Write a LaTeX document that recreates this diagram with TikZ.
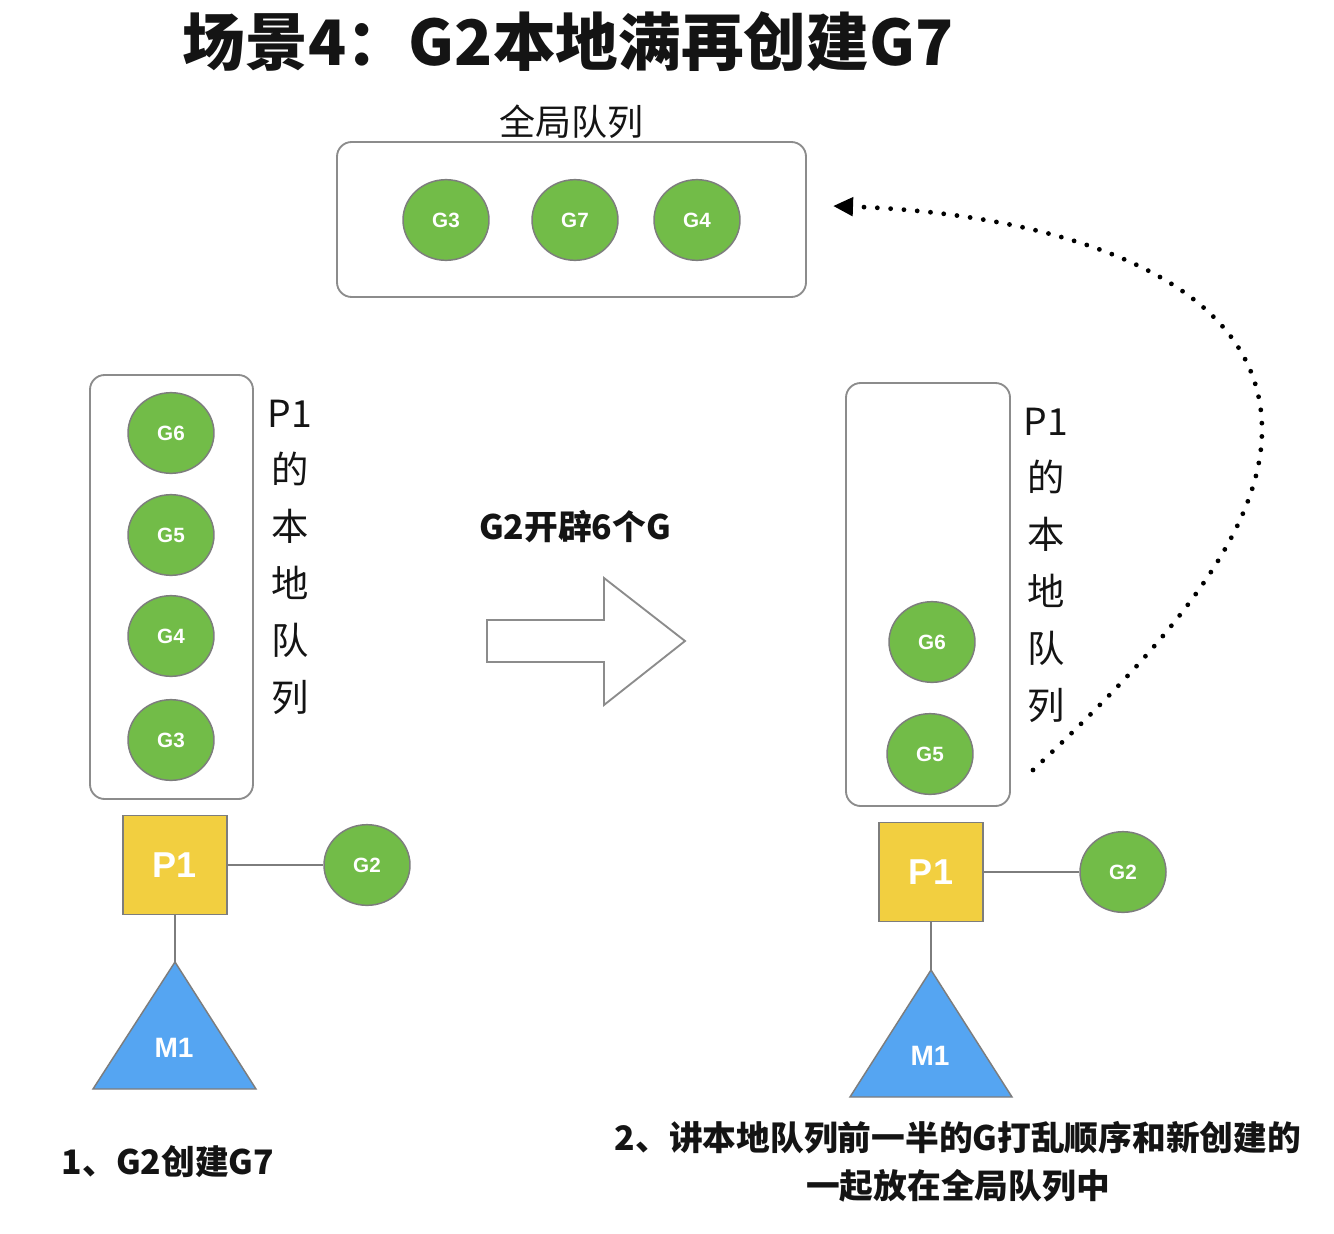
\documentclass[tikz,border=0pt]{standalone}
\usepackage{fontspec}
\setmainfont{Noto Sans CJK SC}
\newfontfamily\arialf{Liberation Sans}
\usetikzlibrary{shapes.geometric,arrows.meta}
\definecolor{ggreen}{RGB}{114,188,72}
\definecolor{gstroke}{RGB}{125,125,125}
\definecolor{pyellow}{RGB}{242,207,64}
\definecolor{mblue}{RGB}{85,165,242}
\definecolor{boxgray}{RGB}{140,140,140}
\definecolor{txtdark}{RGB}{20,20,20}
\begin{document}
\begin{tikzpicture}[x=0.75pt,y=-0.75pt,
  gnode/.style={ellipse, draw=gstroke, line width=1.1pt, fill=ggreen, minimum width=64.5pt, minimum height=60.5pt, inner sep=0pt, text=white, font=\arialf\bfseries\fontsize{15.5}{17}\selectfont},
  qbox/.style={draw=boxgray, line width=1.4pt, rounded corners=11pt, fill=white, inner sep=0pt},
  pbox/.style={draw=gstroke, line width=1.1pt, fill=pyellow, minimum width=78pt, minimum height=74.5pt, inner sep=0pt, text=white, font=\arialf\bfseries\fontsize{27}{30}\selectfont},
  mtri/.style={draw=gstroke, line width=1.1pt, fill=mblue},
  mtext/.style={text=white, font=\arialf\bfseries\fontsize{21}{24}\selectfont},
  link/.style={draw=gstroke, line width=1.1pt},
  vlabel/.style={align=center, text=txtdark, font=\fontsize{28}{42.6}\selectfont, inner sep=0pt},
  dotarrow/.style={line width=3.6pt, line cap=round, dash pattern=on 0pt off 10pt, -{Triangle[length=15pt,width=13.5pt]}},
  bigarrow/.style={draw=boxgray, line width=1.4pt, fill=white},
  note/.style={text=txtdark, font=\bfseries\fontsize{25.3}{36}\selectfont, inner sep=0pt, align=center}
]
\useasboundingbox (0,0) rectangle (1334,1234);

% title
\node[font=\bfseries\fontsize{47}{52}\selectfont, text=txtdark] (title) at (568,42) {场景4：G2本地满再创建G7};

% global queue
\node[qbox, minimum width=351.75pt, minimum height=116.25pt] (gq) at (571.5,219.5) {};
\node[text=txtdark, font=\fontsize{27}{30}\selectfont, inner sep=0pt] (gqlabel) at (571,122) {全局队列};
\node[gnode] (gg3) at (446,220) {G3};
\node[gnode] (gg7) at (575,220) {G7};
\node[gnode] (gg4) at (697,220) {G4};

% left local queue
\node[qbox, minimum width=122.25pt, minimum height=318pt] (lq) at (171.5,587) {};
\node[gnode] (lg6) at (171,433) {G6};
\node[gnode] (lg5) at (171,535) {G5};
\node[gnode] (lg4) at (171,636) {G4};
\node[gnode] (lg3) at (171,740) {G3};
\node[vlabel] (llabel) at (290,557) {P1\\的\\本\\地\\队\\列};

\node[pbox] (lp1) at (175,865) {P1};
\node[gnode] (lg2) at (367,865) {G2};
\draw[link] (lp1.east) -- (lg2.west);
\coordinate (lm1apex) at (175,962);
\draw[mtri] (lm1apex) -- (93,1089) -- (256,1089) -- cycle;
\node[mtext] (lm1) at (174,1048) {M1};
\draw[link] (lp1.south) -- (lm1apex);

\node[note] (lnote) at (168,1162) {1、G2创建G7};

% middle
\node[note] (mid) at (575,527) {G2开辟6个G};
\draw[bigarrow] (487,620) -- (604,620) -- (604,578) -- (685,641) -- (604,705) -- (604,662) -- (487,662) -- cycle;

% right local queue
\node[qbox, minimum width=123pt, minimum height=317.25pt] (rq) at (928,594.5) {};
\node[gnode] (rg6) at (932,642) {G6};
\node[gnode] (rg5) at (930,754) {G5};
\node[vlabel] (rlabel) at (1046,565) {P1\\的\\本\\地\\队\\列};

\node[pbox] (rp1) at (931,872) {P1};
\node[gnode] (rg2) at (1123,872) {G2};
\draw[link] (rp1.east) -- (rg2.west);
\coordinate (rm1apex) at (931,970);
\draw[mtri] (rm1apex) -- (850,1097) -- (1012,1097) -- cycle;
\node[mtext] (rm1) at (930,1056) {M1};
\draw[link] (rp1.south) -- (rm1apex);

\node[note] (rnote) at (958,1162) {2、讲本地队列前一半的G打乱顺序和新创建的\\一起放在全局队列中};

% dotted arrow
\coordinate (dstart) at (1033,770);
\coordinate (dend) at (833,206);
\draw[dotarrow] (dstart) .. controls (1150,660) and (1262,540) .. (1262,430) .. controls (1262,270) and (1040,213) .. (dend);
\end{tikzpicture}
\end{document}
